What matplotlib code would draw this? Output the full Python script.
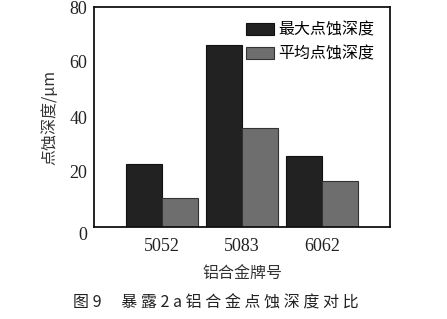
import matplotlib
matplotlib.use("Agg")
import matplotlib.pyplot as plt
import matplotlib.transforms as mtransforms
import numpy as np

categories = ["5052", "5083", "6062"]
max_depth = [23.0, 66.3, 26.0]
avg_depth = [10.4, 36.1, 16.8]
series_names = ["最大点蚀深度", "平均点蚀深度"]
yticks = [0, 20, 40, 60, 80]

cjk = ["Noto Sans CJK SC", "DejaVu Sans"]
serif = "Liberation Serif"

fig = plt.figure(figsize=(4.47, 3.19), dpi=100)
ax = fig.add_axes([94/447, 1-227/319, 296/447, 220/319])

x = np.arange(len(categories))
w = 0.45
ax.bar(x - w/2, max_depth, w, color="#222222", edgecolor="#111111", linewidth=0.8, label=series_names[0])
ax.bar(x + w/2, avg_depth, w, color="#6e6e6e", edgecolor="#333333", linewidth=0.8, label=series_names[1])

ax.set_xlim(-0.843, 2.843)
ax.set_ylim(0, 80)
ax.set_yticks(yticks)
ax.set_xticks(x)
ax.set_xticklabels(categories, family=serif, fontsize=13, color="#222222")
ax.set_yticklabels([str(t) for t in yticks], family=serif, fontsize=13, color="#222222")
ax.tick_params(length=0)
ax.tick_params(axis="y", pad=5)
ax.tick_params(axis="x", pad=8)
t0 = ax.yaxis.get_major_ticks()[0]
t0.label1.set_transform(t0.label1.get_transform() +
                        mtransforms.ScaledTranslation(0, -7/100, fig.dpi_scale_trans))
for s in ax.spines.values():
    s.set_linewidth(1.3)
    s.set_color("#111111")

ax.set_xlabel("铝合金牌号", family=cjk, fontsize=11.5, color="#333333", labelpad=7)
ax.set_ylabel("点蚀深度/μm", family=cjk, fontsize=11.5, color="#333333", labelpad=8)

leg = ax.legend(loc="upper right", frameon=False, prop={"family": cjk, "size": 11.5},
                handlelength=1.7, handleheight=0.75, handletextpad=0.3, labelspacing=0.45,
                borderaxespad=0.3, bbox_to_anchor=(0.985, 0.985))

fig.text(216/447, 1-303/319, "图 9　 暴 露 2 a 铝 合 金 点 蚀 深 度 对 比",
         family=cjk, fontsize=11.5, ha="center", va="center", color="#222222")

fig.savefig("out.png", dpi=100)
